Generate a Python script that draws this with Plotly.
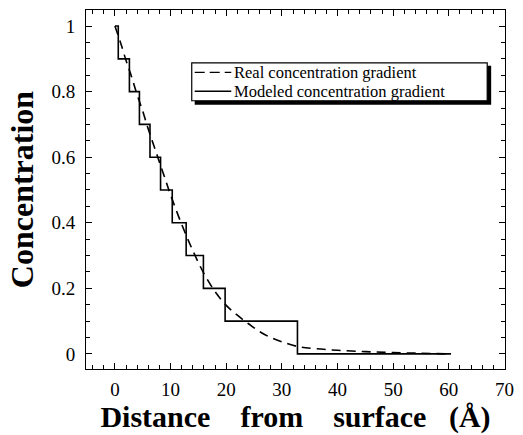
import plotly.graph_objects as go

# Real (dashed) concentration gradient
real_x = [0, 1, 2, 3, 4, 5, 6, 7, 8, 9, 10, 12, 14, 16, 18, 20, 22, 24, 26, 28, 30, 33, 36, 40, 45, 50, 55, 60]
real_y = [1.0, 0.95, 0.895, 0.845, 0.79, 0.74, 0.685, 0.635, 0.585, 0.535, 0.485, 0.395, 0.315, 0.245,
          0.19, 0.148, 0.118, 0.092, 0.068, 0.05, 0.037, 0.022, 0.016, 0.011, 0.007, 0.004, 0.002, 0.0]

# Modeled (step) concentration gradient
model_x = [0, 0.6, 2.6, 4.4, 6.3, 8.2, 10.3, 12.8, 15.9, 19.8, 32.8, 60.4]
model_y = [1.0, 0.9, 0.8, 0.7, 0.6, 0.5, 0.4, 0.3, 0.2, 0.1, 0.0, 0.0]

series_names = ["Real concentration gradient", "Modeled concentration gradient"]

x_ticks = [0, 10, 20, 30, 40, 50, 60, 70]
y_ticks = [0, 0.2, 0.4, 0.6, 0.8, 1]
y_ticklabels = ["0", "0.2", "0.4", "0.6", "0.8", "1"]

SERIF = "Liberation Serif, Times New Roman, serif"
W, H = 523, 435
ML, MR, MT, MB = 86, 13, 9, 66
PW, PH = W - ML - MR, H - MT - MB


def px(x):
    return (x - ML) / PW


def py(y):
    return (H - MB - y) / PH


DASH = "9px,6px"
fig = go.Figure()
fig.add_trace(go.Scatter(x=real_x, y=real_y, mode="lines", name=series_names[0],
                         line=dict(color="black", width=1.6, dash=DASH, shape="spline")))
fig.add_trace(go.Scatter(x=model_x, y=model_y, mode="lines", name=series_names[1],
                         line=dict(color="black", width=1.6, shape="hv")))

# legend box (drawn with shapes so its size can follow the original)
fig.add_shape(type="rect", xref="paper", yref="paper",
              x0=px(196), x1=px(496), y0=py(65), y1=py(104),
              fillcolor="black", line=dict(width=0))
fig.add_shape(type="rect", xref="paper", yref="paper",
              x0=px(193), x1=px(492), y0=py(62), y1=py(100),
              fillcolor="white", line=dict(color="black", width=1.2))
row_y = [71.5, 90.5]
row_dash = ["10px,5px", "solid"]
for name, ry, dsh in zip(series_names, row_y, row_dash):
    fig.add_shape(type="line", xref="paper", yref="paper",
                  x0=px(196), x1=px(233), y0=py(ry), y1=py(ry),
                  line=dict(color="black", width=1.4, dash=dsh))
    fig.add_annotation(xref="paper", yref="paper", x=px(235), y=py(ry),
                       xanchor="left", yanchor="middle", showarrow=False,
                       borderpad=0,
                       text=name, font=dict(family=SERIF, size=16.5, color="black"))

fig.update_layout(
    width=W, height=H,
    margin=dict(l=ML, r=MR, t=MT, b=MB),
    paper_bgcolor="white", plot_bgcolor="white",
    font=dict(family=SERIF, color="black"),
    showlegend=False,
    xaxis=dict(range=[-5.2, 70.1], tickvals=x_ticks, ticktext=[str(v) for v in x_ticks],
               ticks="inside", ticklen=6, tickwidth=1, tickcolor="black",
               showline=True, linecolor="black", linewidth=1, mirror="ticks",
               showgrid=False, zeroline=False,
               tickfont=dict(family=SERIF, size=19),
               ticklabelstandoff=3,
               minor=dict(dtick=2, tick0=0, ticks="inside", ticklen=4, tickcolor="black", showgrid=False),
               title=dict(text="<b>Distance\u00a0\u00a0\u00a0 from\u00a0\u00a0\u00a0 surface\u00a0\u00a0 (Å)</b>",
                          font=dict(family=SERIF, size=30), standoff=3)),
    yaxis=dict(range=[-0.046, 1.049], tickvals=y_ticks, ticktext=y_ticklabels,
               ticks="inside", ticklen=6, tickwidth=1, tickcolor="black",
               showline=True, linecolor="black", linewidth=1, mirror="ticks",
               showgrid=False, zeroline=False,
               tickfont=dict(family=SERIF, size=19),
               ticklabelstandoff=6,
               minor=dict(dtick=0.05, tick0=0, ticks="inside", ticklen=4, tickcolor="black", showgrid=False),
               title=dict(text="<b>Concentration</b>", font=dict(family=SERIF, size=32), standoff=8)),
)

fig.write_html("out.html")
